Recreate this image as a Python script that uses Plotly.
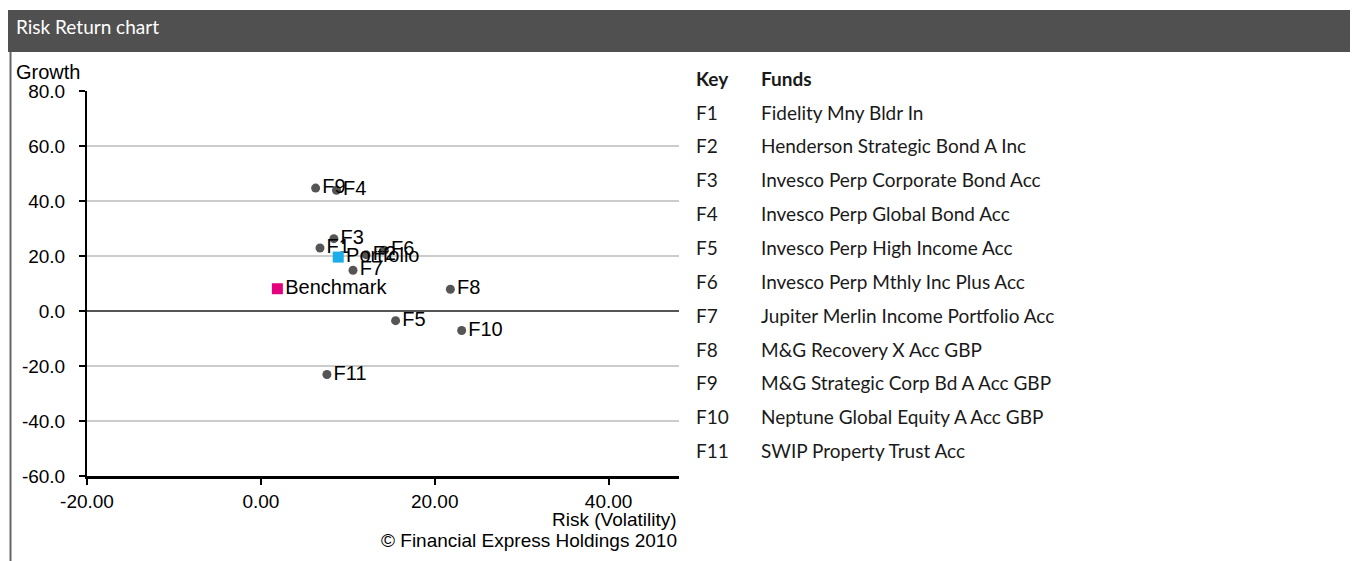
import plotly.graph_objects as go

# ---------------- data ----------------
fund_keys = ["F1", "F2", "F3", "F4", "F5", "F6", "F7", "F8", "F9", "F10", "F11"]
fund_names = [
    "Fidelity Mny Bldr In",
    "Henderson Strategic Bond A Inc",
    "Invesco Perp Corporate Bond Acc",
    "Invesco Perp Global Bond Acc",
    "Invesco Perp High Income Acc",
    "Invesco Perp Mthly Inc Plus Acc",
    "Jupiter Merlin Income Portfolio Acc",
    "M&G Recovery X Acc GBP",
    "M&G Strategic Corp Bd A Acc GBP",
    "Neptune Global Equity A Acc GBP",
    "SWIP Property Trust Acc",
]
fund_risk = [6.8, 12.1, 8.4, 8.7, 15.5, 14.2, 10.6, 21.8, 6.3, 23.1, 7.6]
fund_growth = [22.9, 20.5, 26.3, 43.9, -3.5, 22.1, 14.8, 7.9, 44.7, -7.1, -23.1]

portfolio_risk = [8.9]
portfolio_growth = [19.6]
benchmark_risk = [1.9]
benchmark_growth = [8.1]

x_ticks = [-20, 0, 20, 40]
x_tick_labels = ["-20.00", "0.00", "20.00", "40.00"]
y_ticks = [-60, -40, -20, 0, 20, 40, 60, 80]
y_tick_labels = ["-60.0", "-40.0", "-20.0", "0.0", "20.0", "40.0", "60.0", "80.0"]

# ---------------- layout helpers ----------------
OFF = 8  # page body margin of the html page
W, H = 1358 - OFF, 561 - OFF
L, R, T, B = 87 - OFF, 679 - OFF, 91 - OFF, 476 - OFF  # plot area in figure pixels


def px_x(p):
    """reference screen pixel -> paper x"""
    return (p - OFF - L) / (R - L)


def px_y(p):
    """reference screen pixel -> paper y"""
    return (B - (p - OFF)) / (B - T)


ARIAL = "Liberation Sans, Arial, sans-serif"
LATO = "Lato, sans-serif"
KEY_SIZE = 19

fig = go.Figure()

fig.add_trace(go.Scatter(
    x=fund_risk, y=fund_growth, mode="markers+text",
    text=fund_keys, textposition="middle right",
    textfont=dict(family=ARIAL, size=20, color="#000000"),
    marker=dict(color="#555555", size=9, symbol="circle"),
    cliponaxis=False, showlegend=False, hoverinfo="skip",
))
fig.add_trace(go.Scatter(
    x=portfolio_risk, y=portfolio_growth, mode="markers+text",
    text=["Portfolio"], textposition="middle right",
    textfont=dict(family=ARIAL, size=20, color="#000000"),
    marker=dict(color="#1BADE8", size=11, symbol="square"),
    cliponaxis=False, showlegend=False, hoverinfo="skip",
))
fig.add_trace(go.Scatter(
    x=benchmark_risk, y=benchmark_growth, mode="markers+text",
    text=["Benchmark"], textposition="middle right",
    textfont=dict(family=ARIAL, size=20, color="#000000"),
    marker=dict(color="#E5007D", size=11, symbol="square"),
    cliponaxis=False, showlegend=False, hoverinfo="skip",
))

shapes = [
    # header bar
    dict(type="rect", xref="paper", yref="paper",
         x0=px_x(0), x1=px_x(1370), y0=px_y(52), y1=px_y(10),
         fillcolor="#505050", line=dict(width=0), layer="below"),
    # left border line
    dict(type="line", xref="paper", yref="paper",
         x0=px_x(10.5), x1=px_x(10.5), y0=px_y(52), y1=px_y(570),
         line=dict(color="#666666", width=2)),
]

annotations = [
    dict(text="Risk Return chart", xref="paper", yref="paper",
         x=px_x(14), y=px_y(27), xanchor="left", yanchor="middle",
         showarrow=False, font=dict(family=LATO, size=19, color="#ffffff")),
    dict(text="Growth", xref="paper", yref="paper",
         x=px_x(14), y=px_y(72), xanchor="left", yanchor="middle",
         showarrow=False, font=dict(family=ARIAL, size=20, color="#000000")),
    dict(text="Risk (Volatility)", xref="paper", yref="paper",
         x=px_x(679), y=px_y(519), xanchor="right", yanchor="middle",
         showarrow=False, font=dict(family=ARIAL, size=19, color="#000000")),
    dict(text="© Financial Express Holdings 2010", xref="paper", yref="paper",
         x=px_x(679), y=px_y(540), xanchor="right", yanchor="middle",
         showarrow=False, font=dict(family=ARIAL, size=19, color="#000000")),
    dict(text="<b>Key</b>", xref="paper", yref="paper",
         x=px_x(694), y=px_y(78), xanchor="left", yanchor="middle",
         showarrow=False, font=dict(family=LATO, size=KEY_SIZE, color="#1a1a1a")),
    dict(text="<b>Funds</b>", xref="paper", yref="paper",
         x=px_x(759), y=px_y(78), xanchor="left", yanchor="middle",
         showarrow=False, font=dict(family=LATO, size=KEY_SIZE, color="#1a1a1a")),
]
row0, row_step = 112, 33.86
for i, (k, n) in enumerate(zip(fund_keys, fund_names)):
    yy = row0 + i * row_step
    annotations.append(dict(text=k, xref="paper", yref="paper",
                            x=px_x(694), y=px_y(yy), xanchor="left", yanchor="middle",
                            showarrow=False,
                            font=dict(family=LATO, size=KEY_SIZE, color="#1a1a1a")))
    annotations.append(dict(text=n, xref="paper", yref="paper",
                            x=px_x(759), y=px_y(yy), xanchor="left", yanchor="middle",
                            showarrow=False,
                            font=dict(family=LATO, size=KEY_SIZE, color="#1a1a1a")))

fig.update_layout(
    width=W, height=H,
    margin=dict(l=L, r=W - R, t=T, b=H - B, pad=0),
    paper_bgcolor="#ffffff", plot_bgcolor="#ffffff",
    shapes=shapes, annotations=annotations,
    showlegend=False,
    xaxis=dict(
        range=[-20, 48.1], tickvals=x_ticks, ticktext=x_tick_labels,
        showgrid=False, zeroline=False,
        showline=True, linecolor="#000000", linewidth=2.5,
        ticks="outside", ticklen=6, tickwidth=1.5, tickcolor="#000000",
        tickfont=dict(family=ARIAL, size=19, color="#000000"),
        ticklabelstandoff=0, fixedrange=True,
    ),
    yaxis=dict(
        range=[-60, 80], tickvals=y_ticks, ticktext=y_tick_labels,
        showgrid=True, gridcolor="#cccccc", gridwidth=2,
        zeroline=True, zerolinecolor="#555555", zerolinewidth=2,
        showline=True, linecolor="#000000", linewidth=2,
        ticks="outside", ticklen=6, tickwidth=1.5, tickcolor="#000000",
        tickfont=dict(family=ARIAL, size=19, color="#000000"),
        ticklabelstandoff=10, fixedrange=True,
    ),
)

fig.write_html("out.html")
